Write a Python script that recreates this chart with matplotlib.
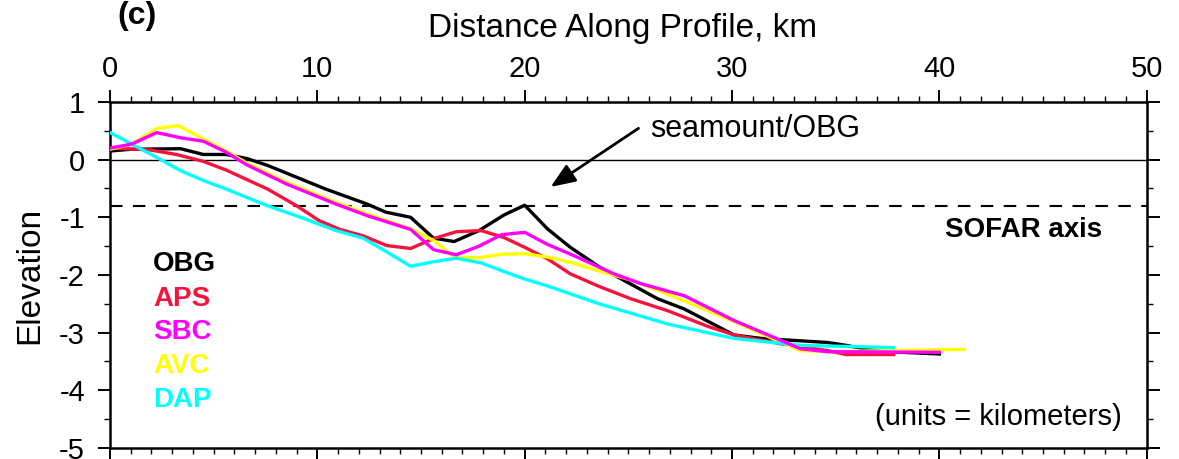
import numpy as np
import matplotlib
matplotlib.use("Agg")
import matplotlib.pyplot as plt
from matplotlib.ticker import MultipleLocator

plt.rcParams['font.family'] = ['Liberation Sans', 'DejaVu Sans']
plt.rcParams['axes.unicode_minus'] = False

# profile data (distance km, elevation km)
obg_x = [0, 1.0, 3.4, 4.5, 5.6, 6.6, 7.6, 10.4, 12.4, 13.3, 14.5, 15.6, 16.6, 17.8, 19.0, 20.0,
         21.1, 22.2, 23.6, 26.4, 27.7, 30.1, 31.4, 34.6, 35.5, 36.5, 37.5, 40.0]
obg_y = [0.15, 0.18, 0.19, 0.09, 0.09, 0.02, -0.10, -0.51, -0.77, -0.91, -1.00, -1.36, -1.42, -1.23, -0.96, -0.79,
         -1.20, -1.52, -1.86, -2.41, -2.59, -3.04, -3.10, -3.17, -3.22, -3.29, -3.33, -3.37]

aps_x = [0, 1.9, 3.2, 4.5, 5.6, 7.6, 9.0, 10.1, 11.1, 12.2, 13.35, 14.5, 15.6, 16.7, 17.9, 19.0, 20.0,
         21.1, 22.2, 23.6, 25.1, 26.9, 28.9, 30.1, 32.3, 34.6, 35.5, 37.8]
aps_y = [0.20, 0.17, 0.09, -0.03, -0.18, -0.51, -0.80, -1.06, -1.21, -1.32, -1.49, -1.54, -1.37, -1.25, -1.23, -1.35, -1.52,
         -1.72, -1.98, -2.20, -2.41, -2.62, -2.90, -3.04, -3.19, -3.31, -3.38, -3.38]

sbc_x = [0, 1.05, 2.25, 3.4, 4.5, 5.6, 6.6, 8.5, 10.9, 12.4, 14.5, 15.6, 16.7, 17.8, 18.9, 20.0, 21.1,
         22.35, 24.3, 25.6, 27.7, 30.1, 32.2, 33.3, 34.6, 40.0]
sbc_y = [0.20, 0.27, 0.47, 0.38, 0.32, 0.13, -0.09, -0.42, -0.77, -0.97, -1.21, -1.56, -1.65, -1.50, -1.30, -1.26, -1.47,
         -1.66, -1.98, -2.15, -2.36, -2.79, -3.11, -3.28, -3.33, -3.34]

avc_x = [0, 1.05, 2.25, 3.3, 4.5, 5.6, 6.6, 8.5, 10.9, 12.4, 14.5, 15.6, 16.6, 17.8, 18.9, 20.0, 21.1,
         22.2, 23.6, 25.25, 27.65, 30.1, 32.2, 33.3, 34.6, 41.2]
avc_y = [0.18, 0.27, 0.54, 0.59, 0.36, 0.15, -0.06, -0.39, -0.74, -0.94, -1.20, -1.40, -1.69, -1.70, -1.64, -1.63, -1.69,
         -1.78, -1.93, -2.10, -2.44, -2.81, -3.14, -3.31, -3.33, -3.29]

dap_x = [0, 1.05, 2.25, 3.4, 4.5, 5.6, 7.6, 9.2, 10.9, 12.2, 13.35, 14.5, 15.6, 16.7, 17.9, 19.0, 20.0,
         21.1, 23.6, 26.9, 30.1, 33.3, 37.8]
dap_y = [0.47, 0.27, 0.04, -0.19, -0.36, -0.51, -0.80, -1.00, -1.23, -1.36, -1.60, -1.85, -1.77, -1.71, -1.79, -1.94, -2.07,
         -2.19, -2.50, -2.85, -3.10, -3.22, -3.26]

names = ["OBG", "APS", "SBC", "AVC", "DAP"]
colors = ["black", "#f5143c", "#ff00ff", "#ffff00", "#00ffff"]

sofar_depth = -0.8

fig = plt.figure(figsize=(11.79, 4.59), dpi=100)
ax = fig.add_axes([0.0933, 0.024, 0.8793, 0.7538])

ax.axhline(0, color="black", lw=1.0, zorder=1)
ax.axhline(sofar_depth, color="black", lw=1.5, ls=(0, (6, 5)), zorder=1)

lw = 2.4
ax.plot(obg_x, obg_y, color=colors[0], lw=lw, zorder=2)
ax.plot(aps_x, aps_y, color=colors[1], lw=lw, zorder=3)
ax.plot(avc_x, avc_y, color=colors[3], lw=lw, zorder=4)
ax.plot(dap_x, dap_y, color=colors[4], lw=lw, zorder=5)
ax.plot(sbc_x, sbc_y, color=colors[2], lw=lw, zorder=6)

ax.set_xlim(0, 50)
ax.set_ylim(-5, 1)
ax.xaxis.set_major_locator(MultipleLocator(10))
ax.xaxis.set_minor_locator(MultipleLocator(1))
ax.yaxis.set_major_locator(MultipleLocator(1))
ax.yaxis.set_minor_locator(MultipleLocator(0.5))
ax.tick_params(which="both", direction="out", top=True, bottom=True, left=True, right=True,
               labeltop=True, labelbottom=False, labelsize=21)
ax.tick_params(which="major", length=9, width=1.4)
ax.tick_params(which="minor", length=4, width=1.0)
ax.tick_params(axis="x", which="major", pad=5)
ax.tick_params(axis="y", which="major", pad=9)
for s in ax.spines.values():
    s.set_linewidth(1.8)

# legend as coloured text
leg_y = [-1.81, -2.41, -2.99, -3.57, -4.16]
for n, c, yy in zip(names, colors, leg_y):
    ax.text(2.07, yy, n, color=c, fontsize=20, fontweight="bold", va="center", ha="left")

ax.text(47.86, -1.22, "SOFAR axis", fontsize=20, fontweight="bold", ha="right", va="center")
ax.text(42.84, -4.46, "(units = kilometers)", fontsize=21, ha="center", va="center")
ax.text(26.05, 0.53, "seamount/OBG", fontsize=22, ha="left", va="center")
ax.annotate("", xy=(21.14, -0.50), xytext=(25.6, 0.57),
            arrowprops=dict(arrowstyle="-|>,head_length=1.5,head_width=0.6", lw=2, color="black"))

fig.text(623 / 1179, 1 - 28 / 459, "Distance Along Profile, km", fontsize=24, ha="center", va="center")
fig.text(30 / 1179, 1 - 275 / 459, "Elevation", fontsize=24, rotation=90, ha="center", va="center")
fig.text(137 / 1179, 1 - 16 / 459, "(c)", fontsize=23, fontweight="bold", ha="center", va="center")

fig.savefig("out.png", dpi=100)
